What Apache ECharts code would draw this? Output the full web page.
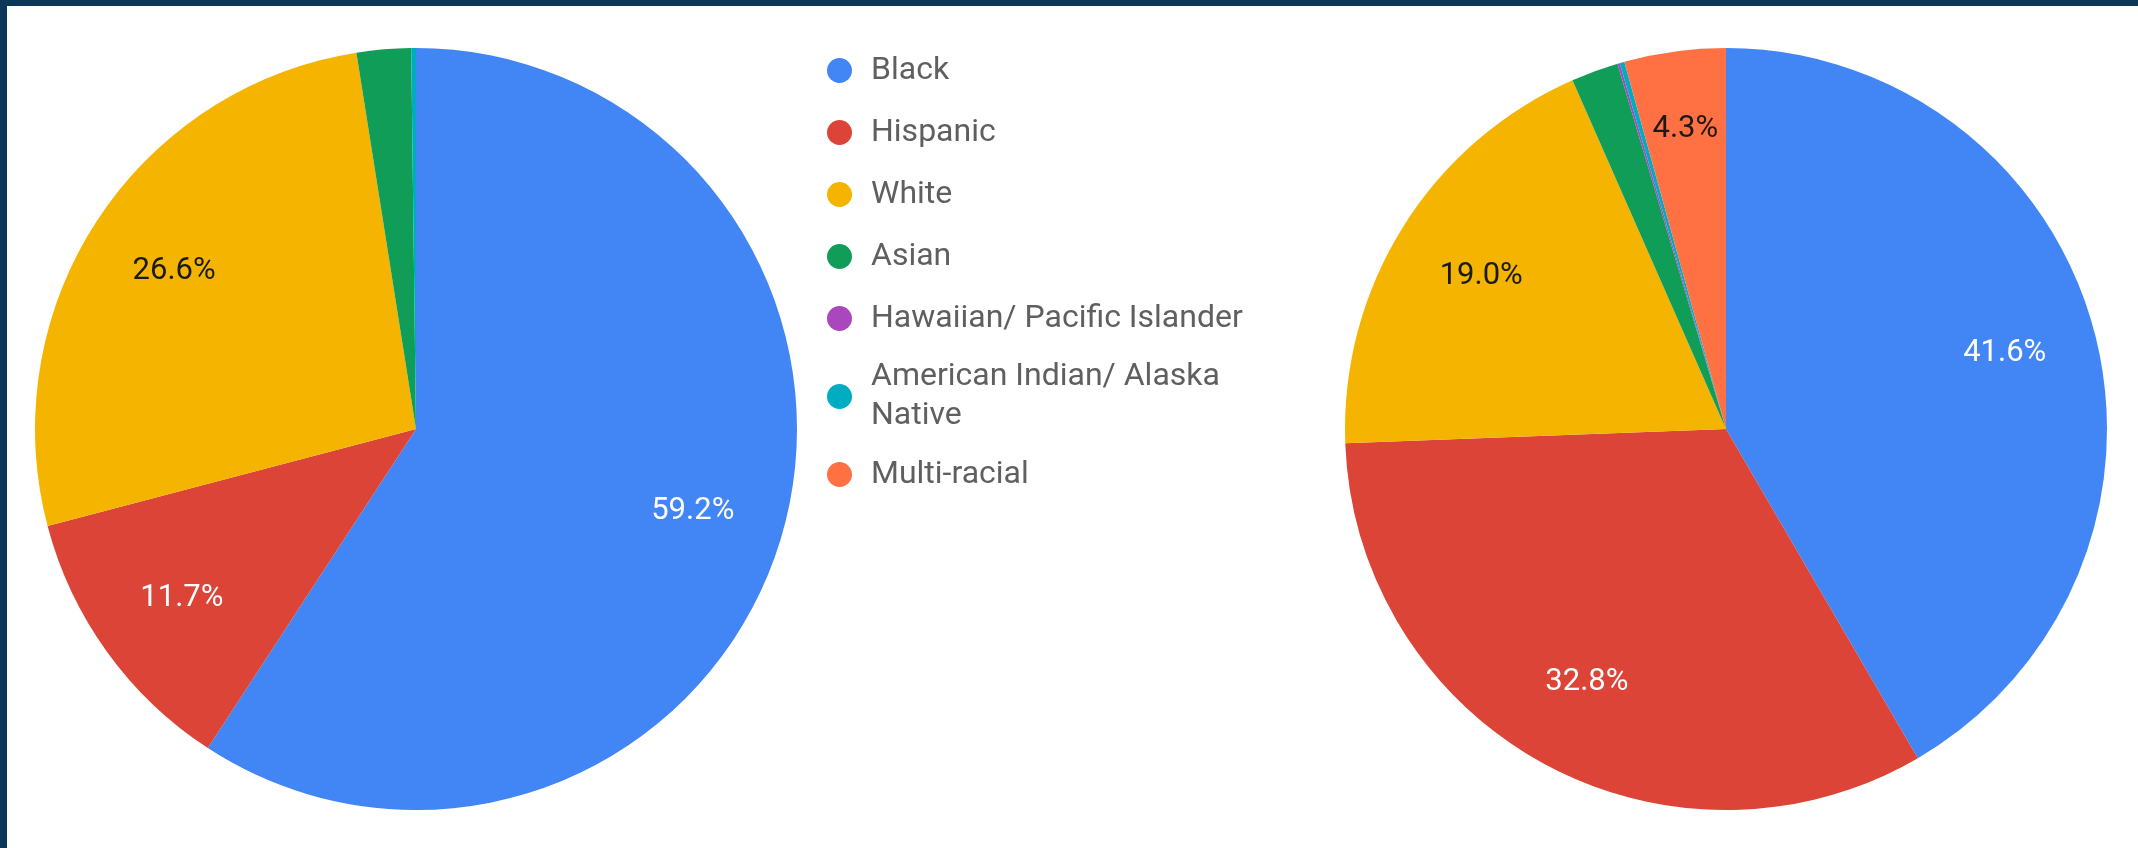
<!DOCTYPE html>
<html>
<head>
<meta charset="utf-8">
<script src="https://cdn.jsdelivr.net/npm/echarts@6/dist/echarts.min.js"></script>
<style>
  html, body { margin: 0; padding: 0; background: #0c3758; overflow: hidden; }
  #chart { position: absolute; left: 7px; top: 6px; width: 2131px; height: 842px; background: #ffffff; }
</style>
</head>
<body>
<div id="chart"></div>
<script>
// Race / ethnicity categories (legend order)
const categories = [
  'Black',
  'Hispanic',
  'White',
  'Asian',
  'Hawaiian/ Pacific Islander',
  'American Indian/ Alaska Native',
  'Multi-racial'
];
// Legend text as shown (long name wraps onto a second line)
const legendLabels = [
  'Black',
  'Hispanic',
  'White',
  'Asian',
  'Hawaiian/ Pacific Islander',
  'American Indian/ Alaska\nNative',
  'Multi-racial'
];
// Percent shares, left pie
const leftShares = [59.2, 11.7, 26.6, 2.3, 0, 0.2, 0];
// Percent shares, right pie
const rightShares = [41.6, 32.8, 19.0, 2.0, 0.1, 0.2, 4.3];

// Styling
const palette = ['#4285f4', '#db4437', '#f4b400', '#0f9d58', '#ab47bc', '#00acc1', '#ff7043'];
const labelInk = ['#ffffff', '#ffffff', '#1a1a1a', '#ffffff', '#ffffff', '#ffffff', '#1a1a1a'];
const FONT = 'Roboto, "Noto Sans", sans-serif';
const LABEL_MIN = 3;          // slices below this share get no label
const NARROW = 6;             // slices below this share carry their label further out
const R = 381;                // pie radius, px
const LEGEND_LINE = 39;       // legend line height, px

function pieSeries(shares, center) {
  return {
    type: 'pie',
    center: center,
    radius: [0, R],
    startAngle: 90,
    clockwise: true,
    silent: true,
    animation: false,
    label: { show: false },
    labelLine: { show: false },
    emphasis: { disabled: true },
    itemStyle: { borderWidth: 0 },
    data: categories.map((name, i) => ({
      name: name,
      value: shares[i],
      itemStyle: { color: palette[i] }
    }))
  };
}

// Transparent ring carrying percentage labels midway between its inner and outer radius
function labelRing(shares, center, inner, keep) {
  return {
    type: 'pie',
    center: center,
    radius: [inner, R],
    startAngle: 90,
    clockwise: true,
    silent: true,
    animation: false,
    legendHoverLink: false,
    emphasis: { disabled: true },
    labelLine: { show: false },
    label: {
      show: true,
      position: 'inside',
      fontFamily: FONT,
      fontSize: 31,
      formatter: p => (keep(p.value) ? p.value.toFixed(1) + '%' : '')
    },
    itemStyle: { color: 'transparent', borderWidth: 0 },
    data: categories.map((name, i) => ({
      name: name,
      value: shares[i],
      itemStyle: { color: 'transparent' },
      label: { color: labelInk[i] }
    }))
  };
}

const wide = v => v >= NARROW;
const narrow = v => v >= LABEL_MIN && v < NARROW;

const chart = echarts.init(document.getElementById('chart'), null, { renderer: 'canvas' });

const leftCenter = [409, 423];
const rightCenter = [1719, 423];

chart.setOption({
  animation: false,
  backgroundColor: '#ffffff',
  color: palette,
  legend: {
    orient: 'vertical',
    left: 820,
    top: 45,
    padding: 0,
    itemWidth: 25,
    itemHeight: 25,
    itemGap: 23,
    icon: 'circle',
    selectedMode: false,
    formatter: name => legendLabels[categories.indexOf(name)],
    textStyle: {
      fontFamily: FONT,
      fontSize: 32,
      color: '#5f5f5f',
      lineHeight: LEGEND_LINE,
      padding: [0, 0, 0, 14]
    },
    data: categories.map((name, i) => {
      const extraLines = legendLabels[i].split('\n').length - 1;
      const item = { name: name, icon: 'circle' };
      if (extraLines > 0) {
        // keep the first line level with the marker, further lines hang below it
        item.textStyle = { padding: [0, 0, -LEGEND_LINE * extraLines, 14] };
      }
      return item;
    })
  },
  series: [
    pieSeries(leftShares, leftCenter),
    pieSeries(rightShares, rightCenter),
    labelRing(leftShares, leftCenter, R * 0.5, wide),
    labelRing(rightShares, rightCenter, R * 0.5, wide),
    labelRing(leftShares, leftCenter, R * 0.57, narrow),
    labelRing(rightShares, rightCenter, R * 0.57, narrow)
  ]
});
</script>
</body>
</html>
